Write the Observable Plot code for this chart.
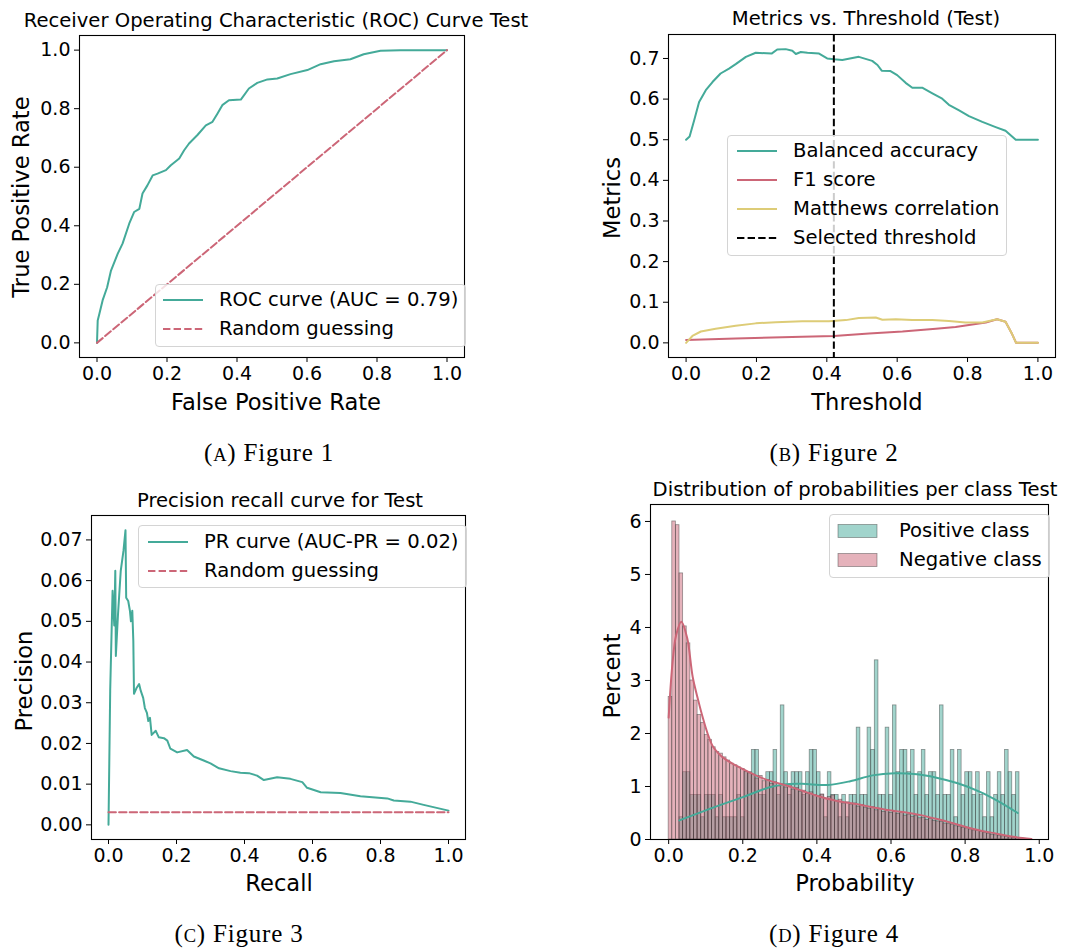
<!DOCTYPE html>
<html><head><meta charset="utf-8">
<script src="https://cdn.jsdelivr.net/npm/d3@7"></script>
<script src="https://cdn.jsdelivr.net/npm/@observablehq/plot@0.6"></script>
<style>
body{margin:0;background:#fff;}
#root{position:relative;width:1070px;height:951px;overflow:hidden;font-family:"DejaVu Sans";color:#000;background:#fff;}
.panel{position:absolute;}
.t{position:absolute;transform:translate(-50%,-50%);white-space:nowrap;line-height:1;}
.title{font-size:19.6px;}
.lab{font-size:22.6px;}
.ylab{position:absolute;transform:translate(-50%,-50%) rotate(-90deg);white-space:nowrap;font-size:22.6px;line-height:1;}
.cap{font-family:"Liberation Serif";font-size:25px;letter-spacing:0.8px;}
.cap .sc{font-size:18.5px;}
.leg{position:absolute;border:1px solid #d4d4d4;border-radius:4px;background:rgba(255,255,255,0.8);box-sizing:border-box;}
.li{position:absolute;font-size:19.6px;white-space:nowrap;transform:translateY(-50%);line-height:1;}
#ov{position:absolute;left:0;top:0;pointer-events:none;}
</style></head><body><div id="root"></div>
<script>
// ---------- colours ----------
const TEAL = "#44AA99", ROSE = "#CC6677", SAND = "#DDCC77";

// ---------- tick labels ----------
const unitTicks = [0, 0.2, 0.4, 0.6, 0.8, 1.0];
const metricTicks = [0, 0.1, 0.2, 0.3, 0.4, 0.5, 0.6, 0.7];
const precTicks = [0, 0.01, 0.02, 0.03, 0.04, 0.05, 0.06, 0.07];
const pctTicks = [0, 1, 2, 3, 4, 5, 6];

// ---------- Figure 1: ROC ----------
const rocFPR = [0, 0.002, 0.007, 0.016, 0.029, 0.04, 0.059, 0.073, 0.092, 0.106, 0.121, 0.13, 0.144, 0.159, 0.173, 0.197, 0.211, 0.235, 0.249, 0.263, 0.287, 0.311, 0.33, 0.344, 0.358, 0.377, 0.411, 0.434, 0.458, 0.487, 0.515, 0.553, 0.601, 0.639, 0.677, 0.724, 0.762, 0.81, 0.867, 1.0];
const rocTPR = [0, 0.076, 0.10, 0.145, 0.19, 0.247, 0.304, 0.339, 0.407, 0.447, 0.458, 0.51, 0.538, 0.572, 0.578, 0.59, 0.607, 0.63, 0.658, 0.681, 0.71, 0.743, 0.755, 0.783, 0.812, 0.829, 0.831, 0.869, 0.888, 0.90, 0.903, 0.918, 0.932, 0.952, 0.962, 0.969, 0.986, 0.998, 1.0, 1.0];
const randX = [0, 1];
const randY = [0, 1];

// ---------- Figure 2: metrics vs threshold ----------
const baThr = [0, 0.01, 0.023, 0.037, 0.056, 0.075, 0.098, 0.122, 0.141, 0.17, 0.198, 0.243, 0.259, 0.283, 0.302, 0.312, 0.326, 0.345, 0.378, 0.401, 0.42, 0.444, 0.491, 0.529, 0.544, 0.556, 0.581, 0.6, 0.624, 0.643, 0.671, 0.7, 0.728, 0.747, 0.776, 0.804, 0.842, 0.88, 0.908, 0.937, 1.0];
const baVal = [0.50, 0.508, 0.548, 0.593, 0.622, 0.642, 0.663, 0.675, 0.686, 0.704, 0.714, 0.712, 0.722, 0.723, 0.719, 0.711, 0.716, 0.714, 0.712, 0.70, 0.698, 0.696, 0.704, 0.694, 0.684, 0.67, 0.669, 0.659, 0.64, 0.628, 0.628, 0.614, 0.601, 0.586, 0.572, 0.558, 0.544, 0.531, 0.522, 0.50, 0.50];
const f1Thr = [0, 0.141, 0.33, 0.42, 0.52, 0.615, 0.71, 0.766, 0.804, 0.852, 0.884, 0.908, 0.927, 0.938, 1.0];
const f1Val = [0.007, 0.011, 0.015, 0.017, 0.023, 0.028, 0.035, 0.039, 0.044, 0.05, 0.058, 0.052, 0.021, 0, 0];
const mccThr = [0, 0.018, 0.042, 0.084, 0.141, 0.198, 0.255, 0.33, 0.406, 0.454, 0.491, 0.539, 0.558, 0.596, 0.643, 0.7, 0.747, 0.794, 0.842, 0.884, 0.908, 0.927, 0.938, 1.0];
const mccVal = [0, 0.017, 0.028, 0.035, 0.042, 0.048, 0.051, 0.053, 0.053, 0.056, 0.061, 0.0625, 0.057, 0.058, 0.056, 0.056, 0.054, 0.05, 0.05, 0.058, 0.052, 0.021, 0, 0];
const selectedThreshold = [0.42];

// ---------- Figure 3: precision-recall ----------
const prRecall = [0, 0.005, 0.012, 0.017, 0.02, 0.0216, 0.028, 0.036, 0.044, 0.05, 0.052, 0.058, 0.063, 0.066, 0.07, 0.073, 0.075, 0.083, 0.09, 0.095, 0.102, 0.107, 0.113, 0.117, 0.122, 0.127, 0.139, 0.148, 0.163, 0.173, 0.182, 0.202, 0.231, 0.251, 0.28, 0.3, 0.325, 0.359, 0.388, 0.413, 0.437, 0.457, 0.496, 0.535, 0.57, 0.584, 0.624, 0.682, 0.741, 0.82, 0.839, 0.888, 0.927, 1.0];
const prPrecision = [0, 0.033, 0.0575, 0.049, 0.0624, 0.0415, 0.0518, 0.0624, 0.0673, 0.0724, 0.0558, 0.055, 0.0526, 0.050, 0.0526, 0.0452, 0.0322, 0.0337, 0.0346, 0.0329, 0.0312, 0.0287, 0.0275, 0.0255, 0.0263, 0.0221, 0.0231, 0.0215, 0.0213, 0.0207, 0.0187, 0.0178, 0.0184, 0.0168, 0.0158, 0.0151, 0.0139, 0.0132, 0.0128, 0.0127, 0.0121, 0.011, 0.0117, 0.0113, 0.0105, 0.0091, 0.008, 0.0078, 0.007, 0.0065, 0.006, 0.0057, 0.0049, 0.0035];
const prRandX = [0, 1];
const prRandY = [0.0031, 0.0031];

// ---------- Figure 4: histogram of probabilities ----------
const BIN_START = 0.0, BIN_WIDTH = 0.00976;
const negPct = [
 2.69, 6.00, 5.93, 5.02, 4.02, 3.70, 3.00, 2.62, 2.35, 2.20,
 1.97, 1.88, 1.74, 1.65, 1.62, 1.55, 1.49, 1.43, 1.40, 1.36,
 1.33, 1.28, 1.25, 1.22, 1.15, 1.20, 1.10, 1.12, 1.05, 1.08,
 1.00, 1.04, 0.98, 1.02, 0.94, 0.97, 0.90, 0.92, 0.86, 0.89,
 0.84, 0.82, 0.85, 0.76, 0.80, 0.83, 0.72, 0.75, 0.68, 0.70,
 0.66, 0.68, 0.62, 0.65, 0.60, 0.58, 0.61, 0.55, 0.57, 0.52,
 0.55, 0.50, 0.52, 0.48, 0.50, 0.45, 0.47, 0.43, 0.44, 0.40,
 0.41, 0.37, 0.39, 0.35, 0.34, 0.33, 0.30, 0.29, 0.28, 0.25,
 0.24, 0.22, 0.21, 0.19, 0.17, 0.16, 0.14, 0.12, 0.11, 0.09,
 0.08, 0.07, 0.06, 0.05, 0.04, 0.03, 0.03, 0.02, 0.01, 0.01];
const posPct = [
 0, 0, 0, 0.42, 1.27, 1.27, 0.84, 0.84, 0.84, 0.42,
 0.84, 0.84, 0.84, 0.42, 0.84, 0.42, 0.42, 0.42, 0.42, 0.84,
 0.42, 1.27, 1.27, 1.69, 1.69, 0.84, 0.84, 1.27, 1.27, 1.69,
 0.84, 2.53, 1.27, 0.84, 1.27, 1.27, 1.27, 0.84, 1.27, 1.69,
 1.69, 1.27, 0.84, 0.42, 1.27, 0.84, 0.84, 0.42, 0.84, 0.42,
 0.84, 0.84, 2.11, 0.84, 0.84, 2.11, 1.69, 3.38, 0.84, 0.84,
 2.11, 0.84, 2.53, 1.27, 1.69, 1.69, 1.27, 1.69, 0.84, 1.27,
 1.69, 0.84, 1.27, 1.27, 0.84, 2.53, 0.84, 0.84, 1.69, 0.42,
 1.69, 0.84, 1.27, 1.27, 0.84, 1.27, 0.84, 0.42, 1.27, 0.42,
 0.84, 1.27, 0.84, 1.69, 1.27, 0.84, 1.27, 0, 0, 0];
const negKdeX = [0.0, 0.01, 0.02, 0.034, 0.05, 0.065, 0.08, 0.092, 0.105, 0.119, 0.135, 0.146, 0.17, 0.2, 0.235, 0.272, 0.326, 0.36, 0.398, 0.452, 0.506, 0.55, 0.596, 0.641, 0.68, 0.722, 0.76, 0.8, 0.84, 0.885, 0.93, 0.979];
const negKdeY = [2.3, 3.3, 3.85, 4.11, 3.8, 3.06, 2.62, 2.3, 2.0, 1.76, 1.62, 1.55, 1.44, 1.33, 1.21, 1.11, 1.0, 0.92, 0.83, 0.73, 0.67, 0.61, 0.55, 0.51, 0.46, 0.39, 0.32, 0.24, 0.17, 0.11, 0.05, 0.01];
const posKdeX = [0.029, 0.1, 0.2, 0.27, 0.31, 0.36, 0.43, 0.49, 0.55, 0.61, 0.67, 0.72, 0.78, 0.84, 0.89, 0.942];
const posKdeY = [0.36, 0.55, 0.8, 0.98, 1.04, 1.05, 1.03, 1.1, 1.21, 1.25, 1.23, 1.17, 1.06, 0.9, 0.72, 0.5];

// ---------- helpers ----------
const pts = (xs, ys) => xs.map((x, i) => ({x, y: ys[i]}));
const bins = (vals) => vals.map((v, i) => ({x1: BIN_START + i * BIN_WIDTH, x2: BIN_START + (i + 1) * BIN_WIDTH, y: v}));
const f1 = d3.format(".1f"), f2 = d3.format(".2f"), fi = d3.format("d");
const style = {fontFamily: "DejaVu Sans", fontSize: "19px", color: "#000", background: "transparent", overflow: "visible"};
const axes = (xt, xf, yt, yf) => [
  Plot.frame({stroke: "#000", strokeWidth: 1.1}),
  Plot.axisX({ticks: xt, tickFormat: xf, tickSize: 5, tickPadding: 4, label: null, fontSize: 19}),
  Plot.axisY({ticks: yt, tickFormat: yf, tickSize: 5, tickPadding: 4, label: null, fontSize: 19})
];
const DASH = "7.4,3.2";

const root = document.getElementById("root");
function place(svg, left, top) {
  const d = document.createElement("div");
  d.className = "panel"; d.style.left = left + "px"; d.style.top = top + "px";
  d.appendChild(svg); root.appendChild(d);
}

// Panel A
place(Plot.plot({
  width: 535, height: 470, marginLeft: 79, marginRight: 71, marginTop: 35, marginBottom: 113,
  x: {domain: [-0.05, 1.05]}, y: {domain: [-0.05, 1.05]}, style,
  marks: [
    Plot.line(pts(rocFPR, rocTPR), {x: "x", y: "y", stroke: TEAL, strokeWidth: 2}),
    Plot.line(pts(randX, randY), {x: "x", y: "y", stroke: ROSE, strokeWidth: 2, strokeDasharray: DASH}),
    ...axes(unitTicks, f1, unitTicks, f1)
  ]
}), 0, 0);

// Panel B
place(Plot.plot({
  width: 535, height: 470, marginLeft: 133, marginRight: 15, marginTop: 34, marginBottom: 113,
  x: {domain: [-0.05, 1.05]}, y: {domain: [-0.036, 0.759]}, style,
  marks: [
    Plot.line(pts(baThr, baVal), {x: "x", y: "y", stroke: TEAL, strokeWidth: 2}),
    Plot.line(pts(f1Thr, f1Val), {x: "x", y: "y", stroke: ROSE, strokeWidth: 2}),
    Plot.line(pts(mccThr, mccVal), {x: "x", y: "y", stroke: SAND, strokeWidth: 2}),
    Plot.ruleX(selectedThreshold, {stroke: "#000", strokeWidth: 2, strokeDasharray: DASH}),
    ...axes(unitTicks, f1, metricTicks, f1)
  ]
}), 535, 0);

// Panel C
place(Plot.plot({
  width: 535, height: 481, marginLeft: 91, marginRight: 70, marginTop: 45, marginBottom: 112,
  x: {domain: [-0.05, 1.05]}, y: {domain: [-0.0036, 0.076]}, style,
  marks: [
    Plot.line(pts(prRecall, prPrecision), {x: "x", y: "y", stroke: TEAL, strokeWidth: 2}),
    Plot.line(pts(prRandX, prRandY), {x: "x", y: "y", stroke: ROSE, strokeWidth: 2, strokeDasharray: DASH}),
    ...axes(unitTicks, f1, precTicks, f2)
  ]
}), 0, 470);

// Panel D
const barStyle = {stroke: "#333", strokeOpacity: 0.5, strokeWidth: 0.8, fillOpacity: 0.5, insetLeft: 0, insetRight: 0};
place(Plot.plot({
  width: 535, height: 481, marginLeft: 115, marginRight: 22, marginTop: 34, marginBottom: 112,
  x: {domain: [-0.049, 1.025]}, y: {domain: [0, 6.32]}, style,
  marks: [
    Plot.rectY(bins(posPct).filter(d => d.y > 0), {x1: "x1", x2: "x2", y: "y", fill: TEAL, ...barStyle}),
    Plot.rectY(bins(negPct), {x1: "x1", x2: "x2", y: "y", fill: ROSE, ...barStyle}),
    Plot.line(pts(posKdeX, posKdeY), {x: "x", y: "y", stroke: TEAL, strokeWidth: 2, curve: "catmull-rom"}),
    Plot.line(pts(negKdeX, negKdeY), {x: "x", y: "y", stroke: ROSE, strokeWidth: 2, curve: "catmull-rom"}),
    ...axes(unitTicks, f1, pctTicks, fi)
  ]
}), 535, 470);

// ---------- texts ----------
function txt(cls, s, x, y, html) {
  const d = document.createElement("div");
  d.className = cls; d.style.left = x + "px"; d.style.top = y + "px";
  if (html) d.innerHTML = s; else d.textContent = s;
  root.appendChild(d);
  return d;
}
txt("t title", "Receiver Operating Characteristic (ROC) Curve Test", 276, 21);
txt("t title", "Metrics vs. Threshold (Test)", 866, 19);
txt("t title", "Precision recall curve for Test", 280, 501);
txt("t title", "Distribution of probabilities per class Test", 855, 490);
txt("t lab", "False Positive Rate", 276, 402);
txt("t lab", "Threshold", 867, 402);
txt("t lab", "Recall", 279, 883);
txt("t lab", "Probability", 855, 883);
txt("ylab", "True Positive Rate", 21, 197);
txt("ylab", "Metrics", 612, 198);
txt("ylab", "Precision", 24, 681);
txt("ylab", "Percent", 612, 676);
txt("t cap", '(<span class="sc">A</span>) Figure 1', 269, 452, true);
txt("t cap", '(<span class="sc">B</span>) Figure 2', 834, 452, true);
txt("t cap", '(<span class="sc">C</span>) Figure 3', 239, 933, true);
txt("t cap", '(<span class="sc">D</span>) Figure 4', 834, 933, true);

// ---------- legends ----------
const ns = "http://www.w3.org/2000/svg";
const ov = document.createElementNS(ns, "svg");
ov.setAttribute("id", "ov"); ov.setAttribute("width", 1070); ov.setAttribute("height", 951);
function sw(x1, x2, y, color, dash) {
  const l = document.createElementNS(ns, "line");
  l.setAttribute("x1", x1); l.setAttribute("x2", x2); l.setAttribute("y1", y); l.setAttribute("y2", y);
  l.setAttribute("stroke", color); l.setAttribute("stroke-width", 2);
  if (dash) l.setAttribute("stroke-dasharray", DASH);
  ov.appendChild(l);
}
function patch(x, y, w, h, color) {
  const r = document.createElementNS(ns, "rect");
  r.setAttribute("x", x); r.setAttribute("y", y); r.setAttribute("width", w); r.setAttribute("height", h);
  r.setAttribute("fill", color); r.setAttribute("fill-opacity", 0.5);
  r.setAttribute("stroke", "#333"); r.setAttribute("stroke-opacity", 0.5); r.setAttribute("stroke-width", 0.8);
  ov.appendChild(r);
}
function legend(left, top, h, textX, labels) {
  const box = document.createElement("div");
  box.className = "leg";
  root.appendChild(box);
  let maxW = 0;
  labels.forEach(([s, y]) => { const e = txt("li", s, textX, y); maxW = Math.max(maxW, e.getBoundingClientRect().width); });
  const right = textX + maxW + 8;
  Object.assign(box.style, {left: left + "px", top: top + "px", width: (right - left) + "px", height: h + "px"});
  // move box behind texts
  root.insertBefore(box, root.querySelector(".li"));
}
legend(155, 284, 63, 219, [["ROC curve (AUC = 0.79)", 300], ["Random guessing", 329]]);
legend(727, 135, 121, 793, [["Balanced accuracy", 151], ["F1 score", 180], ["Matthews correlation", 209], ["Selected threshold", 238]]);
legend(138, 525, 63, 204, [["PR curve (AUC-PR = 0.02)", 542], ["Random guessing", 571]]);
legend(829, 514, 64, 899, [["Positive class", 531], ["Negative class", 560]]);
root.appendChild(ov);

sw(163, 203, 300, TEAL); sw(163, 203, 329, ROSE, true);
sw(737, 777, 151, TEAL); sw(737, 777, 180, ROSE); sw(737, 777, 209, SAND); sw(737, 777, 238, "#000", true);
sw(148, 188, 542, TEAL); sw(148, 188, 571, ROSE, true);
patch(838, 524.5, 39, 13, TEAL); patch(838, 553.5, 39, 13, ROSE);
</script></body></html>
